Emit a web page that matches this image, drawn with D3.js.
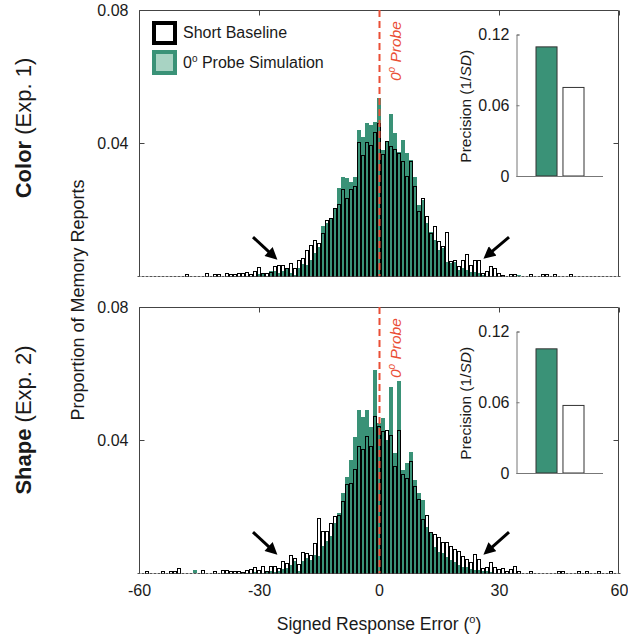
<!DOCTYPE html>
<html>
<head>
<meta charset="utf-8">
<script src="https://cdn.jsdelivr.net/npm/d3@7"></script>
<style>
  body { margin: 0; background: #fff; }
  text { font-family: "Liberation Sans", Arial, sans-serif; fill: #1a1a1a; }
</style>
</head>
<body>
<script>

// bins of signed response error, in degrees (bin centres)
var errorBins = d3.range(-60, 61);

// Color (Exp. 1)
var colorBaseline = [
	0,0,0,0,0,0,0,0,0,0,0,0,
	0.0004,0,0,0,0,0.0008,0,0.0004,0.0005,0,0.0008,0.0006,0.0006,0.0008,
	0.0008,0.001,0.0006,0.0013,0.0025,0.0008,0.0008,0.0012,0.003,0.0033,0.0033,0.0022,0.0037,0.0022,
	0.0048,0.0053,0.0078,0.0093,0.0108,0.0098,0.0128,0.0168,0.0173,0.0204,
	0.0214,0.0259,0.0234,0.026,0.0269,0.0401,0.0361,0.0401,0.0391,0.0431,
	0.046,
	0.0364,0.0404,0.0389,0.0381,0.0369,0.0344,0.0299,0.0344,0.0269,0.0193,
	0.0234,0.018,0.0128,0.0148,0.0103,0.0088,0.013,0.0043,0.0048,0.0028,
	0.0046,0.0065,0.0033,0.0048,0.0048,0.0008,0.0013,0.0028,0.0023,0.0008,
	0.0003,0,0.0005,0.0005,0,0,0,0.0005,0,0,
	0.0004,0.0004,0,0.0004,0,0,0,0.0004,0,0,
	0,0,0,0,0,0,0,0,0,0
];
var colorSimulation = [
	0,0,0,0,0,0,0,0,0,0,0,0,0,0,0,0,0,0,0,0,0,0,0,0,0,0,0,0,0,0,
	0.0005,0.0007,0,0.0015,0.0015,0.001,0.0015,0.002,0.001,0.0003,
	0.0023,0.0037,0.0033,0.0048,0.0068,0.0088,0.015,0.0158,0.0173,0.0204,
	0.0264,0.0299,0.0294,0.0284,0.0299,0.0439,0.0419,0.0461,0.0455,0.0464,
	0.0534,
	0.038,0.0404,0.0486,0.0429,0.0374,0.0409,0.0369,0.0349,0.0299,0.0214,
	0.0229,0.0158,0.0133,0.0108,0.0078,0.0083,0.0043,0.0038,0.0043,0.0018,
	0.0023,0.0018,0.0013,0.0013,0.0008,0.0003,0,0,0,0,
	0,0,0,0,0.0003,0,0,0,0,0,
	0,0,0,0,0,0,0,0,0,0,
	0,0,0,0,0,0,0,0,0,0
];

// Shape (Exp. 2)
var shapeBaseline = [
	0,0,0.0005,0,0,0,0.0004,0,0.0005,0.0005,0.0015,0,
	0,0,0,0,0.0008,0,0,0.0004,0,0.0008,0.0008,0.0006,0.0006,
	0.0004,0.0003,0.0007,0.0011,0.0017,0.0007,0.0019,0.0004,0.0021,0.0021,
	0.0014,0.0034,0.0029,0.0054,0.0044,0.0025,0.0061,0.0059,0.0054,0.0089,
	0.0164,0.0124,0.0124,0.0149,0.0169,0.0174,0.0215,0.0265,0.027,0.031,
	0.038,0.037,0.041,0.038,0.047,
	0.044,
	0.0425,0.043,0.0415,0.032,0.043,0.0295,0.0285,0.0335,0.0259,0.022,
	0.016,0.0174,0.0121,0.0116,0.0106,0.0093,0.0093,0.0081,0.0071,0.0066,
	0.0051,0.0041,0.0031,0.0056,0.004,0.0015,0.0016,0.0033,0.0018,0.001,
	0.0015,0.0005,0.001,0.002,0.0004,0,0,0.0004,0,0,
	0,0,0,0,0.0005,0.0005,0,0,0,0.0004,
	0,0.0004,0,0,0.0004,0,0,0.0004,0,0
];
var shapeSimulation = [
	0,0,0,0,0,0,0,0,0,0,0,0,0,0,
	0.0008,
	0,0,0,0,0,0,0,0,0,0,0,0,0,0,
	0.0003,0,0,0.0005,0.0005,0.0003,0.0005,0.0012,0.0015,0.0025,
	0.0035,0.0005,0.0035,0.0045,
	0.004,0.0055,0.005,0.008,0.0095,0.011,0.015,0.018,0.024,0.029,
	0.034,0.041,0.049,0.047,0.049,0.044,0.061,
	0.045,
	0.0465,0.04,0.056,0.036,0.0578,0.031,0.033,0.0365,0.028,0.024,
	0.022,0.0139,0.0124,0.0079,0.0064,0.0059,0.0049,0.0039,0.0034,0.0024,
	0.0019,0.0019,0.0012,0.001,0.0008,0.0005,0.0005,0.0003,0,0,
	0,0,0,0,0,0,0,0,0,0,0,0,0,0,0,0,0,0,0,0,0,0,0,0,0,0,0,0,0,0
];

// precision (1/SD) insets: [simulation, baseline]
var precisionKeys = ["sim", "base"];
var colorPrecision = [0.1095, 0.0751];
var shapePrecision = [0.1053, 0.0573];

var histTicks = [0.04, 0.08];
var errorTicks = [-60, -30, 0, 30, 60];
var precisionTicks = [0, 0.06, 0.12];

// arrows: [fromError, fromProp, toError, toProp]
var arrowsColor = [[-31.5, 0.0117, -25.3, 0.0048], [32.5, 0.0117, 26, 0.0051]];
var arrowsShape = [[-31.5, 0.0123, -25.3, 0.0054], [32.5, 0.0123, 26, 0.0054]];

var green = "#3a9277";
var red = "#ea4f36";

var svg = d3.select("body").append("svg")
	.attr("width", 628)
	.attr("height", 639);

svg.append("defs").append("marker")
	.attr("id", "head")
	.attr("viewBox", "0 0 10 10")
	.attr("markerUnits", "userSpaceOnUse")
	.attr("markerWidth", 13)
	.attr("markerHeight", 12)
	.attr("refX", 3.8)
	.attr("refY", 5)
	.attr("orient", "auto")
	.append("path")
	.attr("d", "M0,0 L10,5 L0,10 z")
	.style("fill", "#000");

var x = d3.scaleLinear().domain([-60, 60]).range([139, 619]);

var panels = [
	{ title: "Color", sub: " (Exp. 1)", base: colorBaseline, sim: colorSimulation, prec: colorPrecision, arrows: arrowsColor, top: 10, bottom: 276, titleY: 128, legend: true },
	{ title: "Shape", sub: " (Exp. 2)", base: shapeBaseline, sim: shapeSimulation, prec: shapePrecision, arrows: arrowsShape, top: 307, bottom: 573, titleY: 420, legend: false }
];

panels.forEach(function(p, pi) {
	var y = d3.scaleLinear().domain([0, 0.08]).range([p.bottom, p.top]);
	var g = svg.append("g");

	// simulation bars
	g.append("g").selectAll("rect")
		.data(errorBins.filter(function(d, i) { return p.sim[i] > 0; }))
		.join("rect")
		.attr("x", function(d) { return x(d - 0.5); })
		.attr("width", x(1) - x(0))
		.attr("y", function(d) { return y(p.sim[d + 60]); })
		.attr("height", function(d) { return y(0) - y(p.sim[d + 60]); })
		.style("fill", green)
		.style("shape-rendering", "crispEdges");

	// baseline bars (outline only, drawn over the simulation)
	g.append("g").selectAll("rect")
		.data(errorBins.filter(function(d, i) { return p.base[i] > 0; }))
		.join("rect")
		.attr("x", function(d) { return x(d - 0.5) + 0.5; })
		.attr("width", 3)
		.attr("y", function(d) { return y(p.base[d + 60]); })
		.attr("height", function(d) { return y(0) - y(p.base[d + 60]); })
		.style("fill", "none")
		.style("stroke", "#000")
		.style("stroke-width", 1)
		.style("shape-rendering", "crispEdges");

	g.append("g").selectAll("line")
		.data(errorBins)
		.join("line")
		.attr("x1", function(d) { return x(d - 0.5) + 0.5; })
		.attr("x2", function(d) { return x(d - 0.5) + 3.5; })
		.attr("y1", y(0) + 0.5)
		.attr("y2", y(0) + 0.5)
		.style("stroke", "#555")
		.style("stroke-width", 1);

	// box
	var box = g.append("g").style("stroke", "#444").style("stroke-width", 1).style("fill", "none");
	box.append("path")
		.attr("d", "M" + (x(-60) + 0.5) + "," + y(0) + "V" + (y(0.08) + 0.5) + "H" + (x(60) - 0.5) + "V" + y(0));

	var yAxis = g.append("g")
		.attr("transform", "translate(" + (x(-60) + 0.5) + ",0)")
		.call(d3.axisLeft(y).tickValues(histTicks).tickSize(-5).tickPadding(11).tickFormat(d3.format(".2f")));
	yAxis.select(".domain").remove();
	yAxis.selectAll("text").style("font-size", "16px").style("font-family", "Liberation Sans, Arial, sans-serif").attr("fill", "#1a1a1a");
	yAxis.selectAll("line").attr("stroke", "#444");

	var rAxis = g.append("g")
		.attr("transform", "translate(" + (x(60) - 0.5) + ",0)")
		.call(d3.axisRight(y).tickValues([0.04]).tickSize(-5).tickFormat(""));
	rAxis.select(".domain").remove();
	rAxis.selectAll("line").attr("stroke", "#444");

	var tAxis = g.append("g")
		.attr("transform", "translate(0," + (y(0.08) + 0.5) + ")")
		.call(d3.axisTop(x).tickValues(errorTicks).tickSize(-5).tickFormat(""));
	tAxis.select(".domain").remove();
	tAxis.selectAll("line").attr("stroke", "#444");

	if (pi == 1) {
		var xAxis = g.append("g")
			.attr("transform", "translate(0," + y(0) + ")")
			.call(d3.axisBottom(x).tickValues(errorTicks).tickSize(0).tickPadding(12).tickFormat(function(d) { return String(d); }));
		xAxis.select(".domain").remove();
		xAxis.selectAll("text").style("font-size", "16px").style("font-family", "Liberation Sans, Arial, sans-serif").attr("fill", "#1a1a1a");
	}

	// 0 deg probe line
	g.append("line")
		.attr("x1", x(0) + 0.5).attr("x2", x(0) + 0.5)
		.attr("y1", y(0.08)).attr("y2", y(0))
		.style("stroke", red)
		.style("stroke-width", 2)
		.style("stroke-dasharray", "7,4");
	var probe = g.append("text")
		.attr("transform", "translate(" + (x(0) + 22) + "," + (p.top + 71) + ") rotate(-90)")
		.style("font-size", "15.5px")
		.style("font-style", "italic")
		.style("fill", red);
	probe.append("tspan").text("0");
	probe.append("tspan").text("o").attr("dy", -6).style("font-size", "10px");
	probe.append("tspan").text(" Probe").attr("dy", 6);

	// arrows
	g.append("g").selectAll("line")
		.data(p.arrows)
		.join("line")
		.each(function(a) {
			var x1 = x(a[0]), y1 = y(a[1]), x2 = x(a[2]), y2 = y(a[3]);
			var len = Math.sqrt((x2 - x1) * (x2 - x1) + (y2 - y1) * (y2 - y1));
			d3.select(this)
				.attr("x1", x1).attr("y1", y1)
				.attr("x2", x2 - (x2 - x1) / len * 8)
				.attr("y2", y2 - (y2 - y1) / len * 8);
		})
		.style("stroke", "#000")
		.style("stroke-width", 3)
		.attr("marker-end", "url(#head)");

	// panel title
	var t = svg.append("text")
		.attr("transform", "translate(31," + p.titleY + ") rotate(-90)")
		.attr("text-anchor", "middle")
		.style("font-size", "22px");
	t.append("tspan").text(p.title).style("font-weight", "bold");
	t.append("tspan").text(p.sub);

	// precision inset
	var py = d3.scaleLinear().domain([0, 0.12]).range([p.bottom - 100, p.bottom - 241.5]);
	var px = d3.scaleBand().domain(precisionKeys).range([536, 584]).paddingInner(0.22).paddingOuter(0);
	var ins = svg.append("g");
	ins.selectAll("rect")
		.data(precisionKeys)
		.join("rect")
		.attr("x", function(k) { return px(k); })
		.attr("width", px.bandwidth())
		.attr("y", function(k, i) { return py(p.prec[i]); })
		.attr("height", function(k, i) { return py(0) - py(p.prec[i]); })
		.style("fill", function(k) { return k == "sim" ? green : "#fff"; })
		.style("stroke", "#333")
		.style("stroke-width", 1);
	var iAxis = ins.append("g")
		.attr("transform", "translate(516.5,0)")
		.call(d3.axisLeft(py).tickValues(precisionTicks).tickSize(-3).tickPadding(7).tickFormat(function(d) { return d == 0 ? "0" : d3.format(".2f")(d); }));
	iAxis.select(".domain").attr("stroke", "#777");
	iAxis.selectAll("line").attr("stroke", "#777");
	iAxis.selectAll("text").style("font-size", "16px").style("font-family", "Liberation Sans, Arial, sans-serif").attr("fill", "#1a1a1a");
	ins.append("line")
		.attr("x1", 516.5).attr("x2", 603)
		.attr("y1", py(0) + 0.5).attr("y2", py(0) + 0.5)
		.style("stroke", "#777");
	var pl = ins.append("text")
		.attr("transform", "translate(471," + (py(0.06) + 1) + ") rotate(-90)")
		.attr("text-anchor", "middle")
		.style("font-size", "15.5px");
	pl.append("tspan").text("Precision (1/");
	pl.append("tspan").text("SD").style("font-style", "italic");
	pl.append("tspan").text(")");

	// legend
	if (p.legend) {
		var lg = svg.append("g");
		lg.append("rect").attr("x", 154).attr("y", 23).attr("width", 21).attr("height", 20)
			.style("fill", "#fff").style("stroke", "#000").style("stroke-width", 4);
		lg.append("rect").attr("x", 154).attr("y", 52).attr("width", 21).attr("height", 21)
			.style("fill", "#a8d3c3").style("stroke", green).style("stroke-width", 4);
		lg.append("text").attr("x", 183).attr("y", 38).style("font-size", "16px").text("Short Baseline");
		var l2 = lg.append("text").attr("x", 183).attr("y", 68).style("font-size", "16px");
		l2.append("tspan").text("0");
		l2.append("tspan").text("o").attr("dy", -6).style("font-size", "10px");
		l2.append("tspan").text(" Probe Simulation").attr("dy", 6);
	}
});

svg.append("text")
	.attr("transform", "translate(84,300) rotate(-90)")
	.attr("text-anchor", "middle")
	.style("font-size", "18px")
	.text("Proportion of Memory Reports");

var xl = svg.append("text")
	.attr("x", 379)
	.attr("y", 630)
	.attr("text-anchor", "middle")
	.style("font-size", "17.5px");
xl.append("tspan").text("Signed Response Error (");
xl.append("tspan").text("o").attr("dy", -7).style("font-size", "11px");
xl.append("tspan").text(")").attr("dy", 7);

</script>
</body>
</html>
